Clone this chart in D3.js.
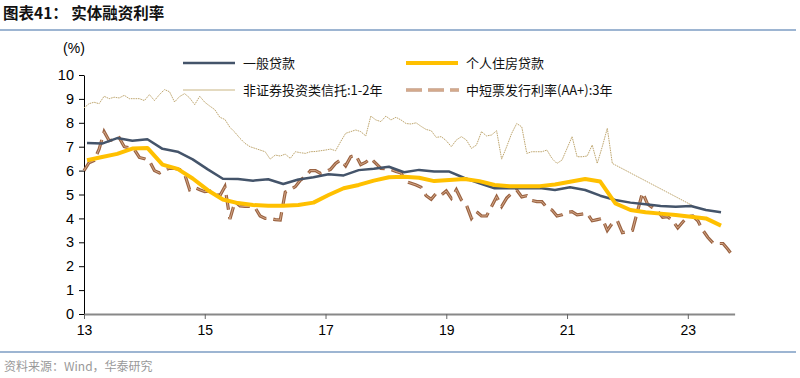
<!DOCTYPE html>
<html><head><meta charset="utf-8">
<script src="https://cdn.jsdelivr.net/npm/d3@7"></script>
<style>
body{margin:0;background:#fff;}
svg{display:block;font-family:"Liberation Sans",Arial,"Noto Sans CJK SC",sans-serif;}
.cjk{font-family:"Noto Sans CJK SC","Liberation Sans",sans-serif;}
</style></head>
<body>
<svg id="chart" width="800" height="378"></svg>
<script>
// ---- data ----
const title = "图表41：  实体融资利率";
const source = "资料来源：Wind，华泰研究";
const seriesNames = ["一般贷款","个人住房贷款","非证券投资类信托:1-2年","中短票发行利率(AA+):3年"];
const xTickLabels = ["13","15","17","19","21","23"];
const yTicks = [0,1,2,3,4,5,6,7,8,9,10];
// quarterly, 2013Q1 .. 2023Q3
const generalLoan = [7.15,7.13,7.36,7.25,7.31,6.91,6.79,6.47,6.05,5.66,5.65,5.58,5.64,5.44,5.63,5.72,5.85,5.80,6.02,6.08,6.16,5.93,6.03,5.96,5.96,5.69,5.47,5.26,5.26,5.26,5.27,5.19,5.30,5.19,4.95,4.77,4.66,4.59,4.52,4.49,4.52,4.35,4.26];
const mortgage = [6.43,6.57,6.70,6.92,6.95,6.25,6.07,5.67,5.18,4.79,4.64,4.56,4.53,4.53,4.56,4.66,4.98,5.26,5.40,5.58,5.72,5.74,5.70,5.56,5.61,5.65,5.56,5.40,5.35,5.35,5.35,5.42,5.53,5.65,5.54,4.63,4.35,4.26,4.20,4.14,4.07,4.00,3.70];
// monthly from Jan 2013 to Oct 2021, then one value in Mar 2023
const trust = [8.62,8.80,8.86,8.80,9.11,9.01,9.07,9.04,9.15,9.01,9.01,9.01,8.93,9.18,8.93,9.18,9.39,9.30,8.87,9.10,9.22,9.04,8.76,9.11,8.86,8.70,8.55,8.23,8.14,7.81,7.60,7.35,7.14,7.00,6.93,6.86,6.79,6.48,6.65,6.61,6.69,6.51,6.79,6.75,6.72,6.79,6.80,6.83,6.86,6.90,6.83,7.21,7.56,7.63,7.70,7.63,7.45,8.28,8.12,8.05,8.28,8.12,8.23,8.12,7.97,7.95,8.00,7.85,7.72,7.67,7.39,7.42,7.25,7.00,7.28,7.42,7.28,6.93,7.07,7.63,7.45,7.49,7.67,6.48,7.00,7.56,7.97,7.83,6.72,6.79,6.79,6.79,6.86,6.51,6.30,6.44,6.93,7.42,6.58,6.58,6.61,7.07,6.30,7.00,7.77,6.30];
const trustLast = 4.42; // Mar 2023
// monthly from Jan 2013 to Oct 2023
const mtn = [6.00,6.33,6.42,6.90,7.63,7.25,7.30,7.38,7.00,6.95,6.88,6.55,6.50,6.40,6.00,5.90,6.02,6.10,6.09,6.05,5.85,5.20,5.30,5.20,5.12,5.15,5.05,4.95,5.33,3.97,4.70,4.52,4.50,4.50,4.45,4.10,4.00,4.00,3.95,3.93,5.10,5.20,5.33,5.60,5.75,6.00,6.00,5.88,5.96,6.05,6.30,6.45,6.20,6.58,6.65,6.25,6.35,6.51,6.30,6.09,6.08,6.05,5.96,5.90,5.54,5.47,5.40,5.30,4.95,4.80,5.05,4.98,5.15,4.84,5.20,4.77,4.56,4.00,4.28,4.10,4.10,4.50,4.91,4.50,4.85,5.05,5.19,4.90,4.95,4.75,4.70,4.70,4.45,4.35,4.10,4.15,4.25,4.28,4.15,4.18,4.21,3.90,3.95,4.00,3.50,3.80,3.90,3.40,3.45,3.50,4.30,5.08,4.60,4.45,4.30,4.05,4.07,3.90,3.60,3.85,4.07,4.10,3.90,3.50,3.20,2.97,2.95,2.95,2.70,2.42];

// ---- layout ----
const svg = d3.select("#chart");
const plot = {left:84, right:734.6, top:75, bottom:314};
const x = d3.scaleLinear().domain([0,129.3]).range([plot.left, plot.right]);
const y = d3.scaleLinear().domain([0,10]).range([plot.bottom, plot.top]);

// title & rules
svg.append("text").attr("class","cjk").attr("x",3).attr("y",19)
  .attr("font-size",15.5).attr("font-weight","bold").attr("fill","#111").text(title);
svg.append("line").attr("x1",0).attr("x2",796).attr("y1",30).attr("y2",30)
  .attr("stroke","#9DB5D2").attr("stroke-width",2);
svg.append("line").attr("x1",0).attr("x2",796).attr("y1",352).attr("y2",352)
  .attr("stroke","#9DB5D2").attr("stroke-width",2);
svg.append("text").attr("class","cjk").attr("x",4).attr("y",371)
  .attr("font-size",12).attr("fill","#999").text(source);

// axes
const yAxis = d3.axisLeft(y).tickValues(yTicks).tickSize(5).tickSizeOuter(0).tickFormat(d3.format("d"));
const gy = svg.append("g").attr("transform",`translate(${plot.left},0)`).call(yAxis);
gy.select(".domain").attr("stroke","#000");
gy.selectAll(".tick line").attr("stroke","#000");
gy.selectAll("text").attr("font-size",14.5).attr("fill","#000").attr("font-family","Liberation Sans, Arial").attr("dx",-2);

const xAxis = d3.axisBottom(x).tickValues([0,24,48,72,96,120]).tickSize(5).tickSizeOuter(0)
  .tickFormat((d,i)=>xTickLabels[i]);
const gx = svg.append("g").attr("transform",`translate(0,${plot.bottom})`).call(xAxis);
gx.select(".domain").attr("stroke","#888").attr("stroke-width",2);
gx.selectAll(".tick line").attr("stroke","#666");
gx.selectAll("text").attr("font-size",14).attr("fill","#000").attr("font-family","Liberation Sans, Arial").attr("dy","0.9em");

svg.append("text").attr("x",74).attr("y",53).attr("text-anchor","middle")
  .attr("font-size",14).attr("fill","#000").text("(%)");

// series
const line = d3.line().x(d=>x(d[0])).y(d=>y(d[1]));
const trustPts = trust.map((v,i)=>[i,v]).concat([[122,trustLast]]);
const mtnPts = mtn.map((v,i)=>[i,v]);
const glPts = generalLoan.map((v,i)=>[i*3+0.6,v]);
const mgPts = mortgage.map((v,i)=>[i*3+0.6,v]);

svg.append("path").attr("d",line(trustPts)).attr("fill","none")
  .attr("stroke","#BFA770").attr("stroke-width",1).attr("stroke-dasharray","1.6,0.8");
svg.append("path").attr("d",line(mtnPts)).attr("fill","none")
  .attr("stroke","#9A6342").attr("stroke-width",3.2).attr("stroke-dasharray","15,7");
svg.append("path").attr("d",line(mtnPts)).attr("fill","none")
  .attr("stroke","#D9AE8E").attr("stroke-width",0.9).attr("stroke-dasharray","15,7");
svg.append("path").attr("d",line(glPts)).attr("fill","none")
  .attr("stroke","#44546A").attr("stroke-width",2.5).attr("stroke-linejoin","round");
svg.append("path").attr("d",line(mgPts)).attr("fill","none")
  .attr("stroke","#FFC000").attr("stroke-width",4).attr("stroke-linejoin","round");

// legend
const leg = svg.append("g").attr("class","cjk").attr("font-size",13).attr("fill","#111");
const legItems = [
  {x:183,y:63,name:seriesNames[0]},
  {x:406,y:63,name:seriesNames[1]},
  {x:183,y:90,name:seriesNames[2]},
  {x:406,y:90,name:seriesNames[3]}
];
leg.append("line").attr("x1",legItems[0].x).attr("x2",legItems[0].x+52).attr("y1",63).attr("y2",63)
  .attr("stroke","#44546A").attr("stroke-width",2.5);
leg.append("line").attr("x1",legItems[1].x).attr("x2",legItems[1].x+52).attr("y1",63).attr("y2",63)
  .attr("stroke","#FFC000").attr("stroke-width",4);
leg.append("line").attr("x1",legItems[2].x).attr("x2",legItems[2].x+52).attr("y1",90).attr("y2",90)
  .attr("stroke","#C9B582").attr("stroke-width",1);
leg.append("line").attr("x1",legItems[3].x).attr("x2",legItems[3].x+53).attr("y1",90).attr("y2",90)
  .attr("stroke","#A8714F").attr("stroke-width",3.2).attr("stroke-dasharray","16,6");
leg.append("line").attr("x1",legItems[3].x).attr("x2",legItems[3].x+53).attr("y1",90).attr("y2",90)
  .attr("stroke","#E2BCA0").attr("stroke-width",1.4).attr("stroke-dasharray","16,6");
legItems.forEach(it=>{
  leg.append("text").attr("x",it.x+60).attr("y",it.y+5).text(it.name);
});
</script>
</body></html>
